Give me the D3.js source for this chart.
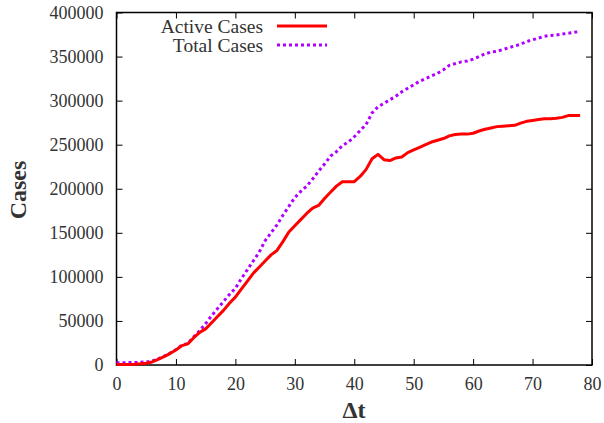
<!DOCTYPE html>
<html>
<head>
<meta charset="utf-8">
<script src="https://cdn.jsdelivr.net/npm/d3@7"></script>
<style>
  body { margin: 0; background: #fff; }
  text { font-family: "Liberation Serif", "DejaVu Serif", serif; fill: #333; }
</style>
</head>
<body>
<div id="chart"></div>
<script>
// Data (day index and case counts)
var days = d3.range(0, 79);
var activeCases = [
  500, 600, 700, 900, 1300, 2000, 3500, 6500, 9500, 13000,
  17000, 22000, 24000, 31000, 37000, 41000, 48000, 55000, 62000, 70000,
  77000, 86000, 95000, 104000, 111000, 118000, 125000, 130000, 140000, 151000,
  158000, 165000, 172000, 178000, 181000, 189000, 196000, 203000, 208000, 208000,
  208000, 214000, 222000, 234000, 239000, 233000, 232000, 235000, 236000, 241000,
  244000, 247000, 250000, 253000, 255000, 257000, 260000, 261500, 262000, 262000,
  263000, 265500, 267500, 269000, 270500, 271000, 271500, 272000, 274500, 276500,
  277500, 278500, 279500, 279500, 280000, 281000, 283000, 283000, 283000
];
var totalCases = [
  2500, 2600, 2700, 2800, 3000, 3500, 4500, 7000, 10000, 13500,
  17500, 22500, 24500, 32000, 39000, 47000, 56000, 64000, 72000, 80000,
  87000, 98000, 108000, 118000, 128000, 141000, 150000, 159000, 170000, 180000,
  190000, 197000, 203000, 211000, 220000, 228000, 237000, 242000, 249000, 253000,
  259000, 266000, 273000, 286000, 293000, 297000, 301000, 305000, 310000, 314000,
  318000, 322000, 325000, 328000, 331000, 335000, 340000, 342000, 344000, 345000,
  347000, 350000, 353000, 355000, 356000, 358000, 360000, 362000, 364000, 367000,
  369000, 371000, 373000, 374000, 374500, 375500, 376500, 377500, 378500
];
var xTicks = [0, 10, 20, 30, 40, 50, 60, 70, 80];
var yTicks = [0, 50000, 100000, 150000, 200000, 250000, 300000, 350000, 400000];
var seriesNames = ["Active Cases", "Total Cases"];

var svgWidth = 604, svgHeight = 423;
var margin = { top: 12.5, right: 12, bottom: 58, left: 116.5 };
var width = svgWidth - margin.left - margin.right;
var height = svgHeight - margin.top - margin.bottom;

var svg = d3.select("#chart").append("svg")
  .attr("width", svgWidth)
  .attr("height", svgHeight);

var chartGroup = svg.append("g")
  .attr("transform", `translate(${margin.left}, ${margin.top})`);

var xScale = d3.scaleLinear().domain([0, 80]).range([0, width]);
var yScale = d3.scaleLinear().domain([0, 400000]).range([height, 0]);

// Axes: ticks pointing inward, mirrored on top/right
var tickLen = 6;
var xAxis = d3.axisBottom(xScale).tickValues(xTicks).tickSizeInner(-tickLen).tickSizeOuter(0).tickPadding(12);
var yAxis = d3.axisLeft(yScale).tickValues(yTicks).tickFormat(d3.format("d")).tickSizeInner(-tickLen).tickSizeOuter(0).tickPadding(13);
var xTop = d3.axisTop(xScale).tickValues(xTicks).tickSizeInner(-tickLen).tickSizeOuter(0).tickFormat("");
var yRight = d3.axisRight(yScale).tickValues(yTicks).tickSizeInner(-tickLen).tickSizeOuter(0).tickFormat("");

chartGroup.append("g").attr("class", "axis").attr("transform", `translate(0, ${height})`).call(xAxis);
chartGroup.append("g").attr("class", "axis").call(yAxis);
chartGroup.append("g").attr("class", "axis").call(xTop);
chartGroup.append("g").attr("class", "axis").attr("transform", `translate(${width}, 0)`).call(yRight);

chartGroup.selectAll(".axis text").style("font-size", "18px").style("font-family", "Liberation Serif, serif").attr("fill", "#333");
chartGroup.selectAll(".axis line").attr("stroke", "#000").attr("stroke-width", 1);
chartGroup.selectAll(".axis path").remove();

// Frame
chartGroup.append("rect")
  .attr("width", width).attr("height", height)
  .attr("fill", "none").attr("stroke", "#000").attr("stroke-width", 1.5);

// Lines
var line = function(vals) {
  return d3.line().x((d, i) => xScale(days[i])).y(d => yScale(d))(vals);
};

chartGroup.append("path")
  .attr("d", line(totalCases))
  .attr("fill", "none")
  .attr("stroke", "#b000ff")
  .attr("stroke-width", 3)
  .attr("stroke-dasharray", "3,3");

chartGroup.append("path")
  .attr("d", line(activeCases))
  .attr("fill", "none")
  .attr("stroke", "#ff0000")
  .attr("stroke-width", 3)
  .attr("stroke-linejoin", "round");

// Legend
var legendStyles = [
  { color: "#ff0000", dash: null },
  { color: "#b000ff", dash: "3,3" }
];
seriesNames.forEach(function(name, i) {
  var ly = 26 + i * 19;
  svg.append("text")
    .attr("x", 263).attr("y", ly)
    .attr("dy", "0.35em")
    .attr("text-anchor", "end")
    .style("font-size", "19.5px")
    .text(name);
  svg.append("line")
    .attr("x1", 277).attr("x2", 327)
    .attr("y1", ly).attr("y2", ly)
    .attr("stroke", legendStyles[i].color)
    .attr("stroke-width", 3)
    .attr("stroke-dasharray", legendStyles[i].dash);
});

// Axis labels
svg.append("text")
  .attr("transform", "rotate(-90)")
  .attr("x", -190).attr("y", 26)
  .attr("text-anchor", "middle")
  .style("font-size", "24px")
  .style("font-weight", "bold")
  .text("Cases");

svg.append("text")
  .attr("x", 354).attr("y", 418)
  .attr("text-anchor", "middle")
  .style("font-size", "24px")
  .style("font-weight", "bold")
  .text("Δt");
</script>
</body>
</html>
